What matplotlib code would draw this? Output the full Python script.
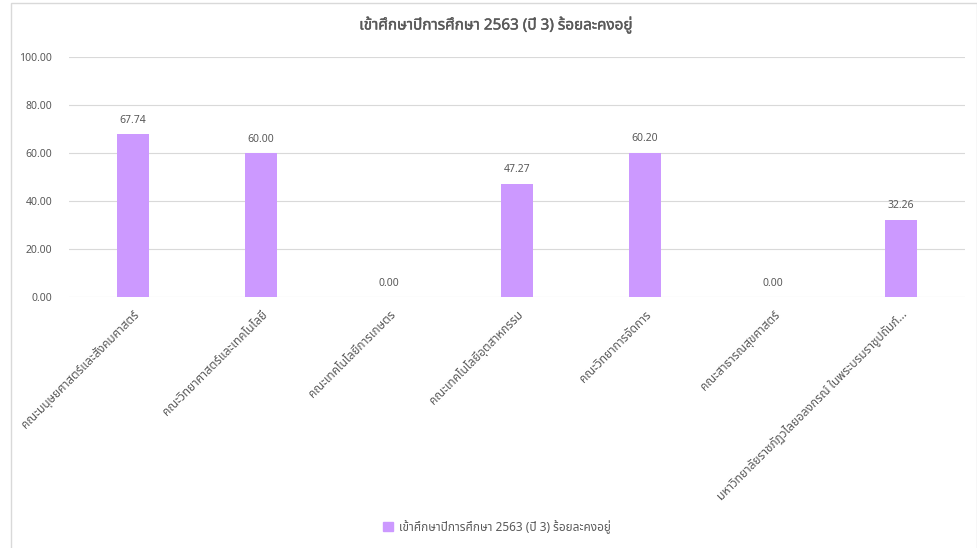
import matplotlib
matplotlib.use("Agg")
from matplotlib import pyplot as plt
from matplotlib import font_manager
from matplotlib import patheffects
from matplotlib.ft2font import FT2Font
from matplotlib.patches import Patch, Rectangle

TITLE = "เข้าศึกษาปีการศึกษา 2563 (ปี 3) ร้อยละคงอยู่"
CATEGORIES = [
    "คณะมนุษยศาสตร์และสังคมศาสตร์",
    "คณะวิทยาศาสตร์และเทคโนโลยี",
    "คณะเทคโนโลยีการเกษตร",
    "คณะเทคโนโลยีอุตสาหกรรม",
    "คณะวิทยาการจัดการ",
    "คณะสาธารณสุขศาสตร์",
    "มหาวิทยาลัยราชภัฏวไลยอลงกรณ์ ในพระบรมราชูปถัมภ์...",
]
VALUES = [67.74, 60.00, 0.00, 47.27, 60.20, 0.00, 32.26]
Y_TICKS = [0, 20, 40, 60, 80, 100]

BAR_COLOR = "#CC99FF"
TEXT_COLOR = "#595959"
GRID_COLOR = "#D9D9D9"


def find_thai_font() -> str:
    """Pick an installed family that has Thai glyphs."""
    preferred = ["Leelawadee UI", "Noto Sans Thai", "Noto Sans Thai UI",
                 "Loma", "Garuda", "Waree", "Umpush", "Sarabun", "Tahoma",
                 "Noto Sans", "DejaVu Sans"]
    found = {}
    for f in font_manager.fontManager.ttflist:
        try:
            ft = FT2Font(f.fname)
            if ft.get_char_index(0x0E01) and ft.get_char_index(0x0E32):
                found.setdefault(f.name, f.fname)
        except Exception:
            pass
    for name in preferred:
        if name in found:
            return name
    return next(iter(found), "DejaVu Sans")


plt.rcParams["font.family"] = [find_thai_font(), "DejaVu Sans"]

W, H = 978, 548
fig = plt.figure(figsize=(W / 100, H / 100), dpi=100)

# chart border
fig.patches.append(Rectangle((11 / W, -0.01), (977 - 11) / W, 1 - 3 / H + 0.01,
                             transform=fig.transFigure, fill=False,
                             edgecolor=GRID_COLOR, linewidth=1))

ax = fig.add_axes([69 / W, 1 - 297 / H, (965 - 69) / W, 240 / H])
x = list(range(len(CATEGORIES)))
bars = ax.bar(x, VALUES, width=0.25, color=BAR_COLOR, zorder=3)

for xi, v in zip(x, VALUES):
    ax.annotate(f"{v:.2f}", (xi, v), xytext=(0, 6), textcoords="offset points",
                ha="center", va="bottom", fontsize=7.5, color=TEXT_COLOR)

ax.set_xlim(-0.5, len(CATEGORIES) - 0.5)
ax.set_ylim(0, 100)
ax.set_yticks(Y_TICKS)
ax.set_yticklabels([f"{t:.2f}" for t in Y_TICKS], fontsize=7.5, color=TEXT_COLOR)
ax.set_xticks(x)
ax.set_xticklabels(CATEGORIES, rotation=45, ha="right", va="top",
                   rotation_mode="anchor", fontsize=8.5, color=TEXT_COLOR)
ax.tick_params(length=0, pad=12)
ax.tick_params(axis="x", pad=8)
ax.grid(axis="y", color=GRID_COLOR, linewidth=0.8, zorder=0)
for s in ax.spines.values():
    s.set_visible(False)

# font has no bold face here, so thicken the title a little
fig.text(496 / W, 1 - 25 / H, TITLE, ha="center", va="center",
         fontsize=11, fontweight="bold", color=TEXT_COLOR,
         path_effects=[patheffects.withStroke(linewidth=0.3,
                                              foreground=TEXT_COLOR)])

fig.legend(handles=[Patch(color=BAR_COLOR, label=TITLE)], loc="center",
           bbox_to_anchor=(497 / W, 1 - 527 / H), frameon=False,
           fontsize=8.5, labelcolor=TEXT_COLOR, handlelength=0.8,
           handleheight=0.8, handletextpad=0.5)

fig.savefig("out.png", dpi=100)
